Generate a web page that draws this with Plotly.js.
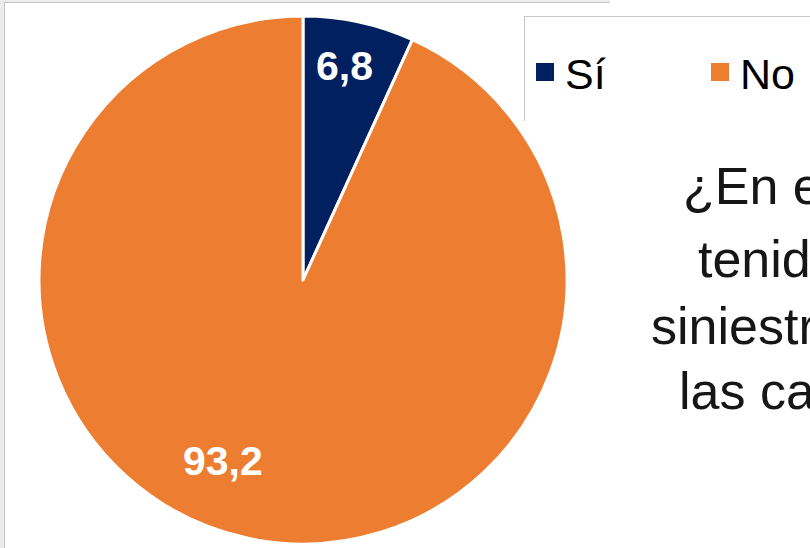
<!DOCTYPE html>
<html>
<head>
<meta charset="utf-8">
<script src="https://cdn.plot.ly/plotly-3.0.1.min.js"></script>
<style>
  html, body { margin: 0; padding: 0; background: #ffffff; }
  #chart { width: 810px; height: 548px; }
</style>
</head>
<body>
<div id="chart"></div>
<script>
// ---- data ----
const categories = ['Sí', 'No'];
const values = [6.8, 93.2];
const sliceColors = ['#002060', '#ED7D31'];
const questionLines = ['¿En el último', 'tenido algún', 'siniestro en', 'las carreteras'];

// ---- layout helpers (pixel -> paper) ----
const W = 810, H = 548;
const px = x => x / W;
const py = y => 1 - y / H;

const cx = 303, cy = 280, r = 264;
const FONT = 'Liberation Sans, Arial, Helvetica, sans-serif';

const fmt = v => v.toFixed(1).replace('.', ',');

const trace = {
  type: 'pie',
  labels: categories,
  values: values,
  sort: false,
  direction: 'clockwise',
  rotation: 0,
  marker: { colors: sliceColors, line: { color: '#ffffff', width: 3 } },
  textinfo: 'none',
  hoverinfo: 'label+value',
  domain: { x: [px(cx - r), px(cx + r)], y: [py(cy + r), py(cy - r)] }
};

// label positions (pixels) for the value labels
const labelPos = [[344, 66], [223, 461]];
const valueLabels = values.map((v, i) => ({
  text: '<b>' + fmt(v) + '</b>',
  x: px(labelPos[i][0]), y: py(labelPos[i][1]),
  xref: 'paper', yref: 'paper', xanchor: 'center', yanchor: 'middle',
  showarrow: false,
  font: { family: FONT, size: 41, color: '#ffffff' }
}));

// question text lines (left starts / vertical centres in pixels)
const qPos = [[681, 186], [696, 259], [649, 326], [677, 391]];
const questionAnn = questionLines.map((t, i) => ({
  text: t,
  x: px(qPos[i][0]), y: py(qPos[i][1]),
  xref: 'paper', yref: 'paper', xanchor: 'left', yanchor: 'middle',
  showarrow: false,
  font: { family: FONT, size: 52, color: '#161616' }
}));

const frameColor = '#c6c6c6';
const shapes = [
  { type: 'rect', xref: 'paper', yref: 'paper', x0: 0, x1: px(4), y0: 0, y1: 1, fillcolor: '#ececec', line: { width: 0 }, layer: 'below' },
  { type: 'rect', xref: 'paper', yref: 'paper', x0: 0, x1: px(610), y0: py(2), y1: 1, fillcolor: '#ececec', line: { width: 0 }, layer: 'below' },
  { type: 'line', xref: 'paper', yref: 'paper', x0: px(4), x1: px(610), y0: py(2.5), y1: py(2.5), line: { color: frameColor, width: 1 }, layer: 'below' },
  { type: 'line', xref: 'paper', yref: 'paper', x0: px(4.5), x1: px(4.5), y0: py(2), y1: 0, line: { color: frameColor, width: 1 }, layer: 'below' },
  { type: 'line', xref: 'paper', yref: 'paper', x0: px(524.5), x1: px(524.5), y0: py(16), y1: py(121), line: { color: frameColor, width: 1 }, layer: 'below' },
  { type: 'line', xref: 'paper', yref: 'paper', x0: px(524), x1: 1, y0: py(16.5), y1: py(16.5), line: { color: frameColor, width: 1 }, layer: 'below' }
];

const layout = {
  width: W, height: H,
  margin: { l: 0, r: 0, t: 0, b: 0, pad: 0, autoexpand: false },
  paper_bgcolor: '#ffffff',
  plot_bgcolor: '#ffffff',
  showlegend: true,
  legend: {
    orientation: 'h',
    xref: 'container', yref: 'container',
    x: px(525), xanchor: 'left',
    y: py(72), yanchor: 'middle',
    bgcolor: 'rgba(0,0,0,0)',
    borderwidth: 0,
    entrywidth: 130, entrywidthmode: 'pixels',
    traceorder: 'normal',
    font: { family: FONT, size: 43, color: '#000000' }
  },
  annotations: valueLabels.concat(questionAnn),
  shapes: shapes
};

Plotly.newPlot('chart', [trace], layout, { displayModeBar: false, staticPlot: true }).then(function (gd) {
  // enlarge legend swatches to match the reference's square markers
  gd.querySelectorAll('path.legendpie').forEach(function (p) {
    p.setAttribute('d', 'M9,9H-9V-9H9Z');
    p.style.strokeWidth = '0px';
  });
});
</script>
</body>
</html>
